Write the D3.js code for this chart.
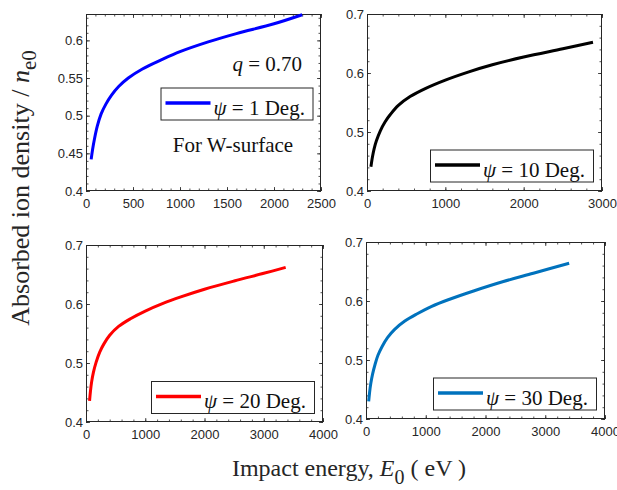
<!DOCTYPE html>
<html>
<head>
<meta charset="utf-8">
<script src="https://cdn.jsdelivr.net/npm/d3@7/dist/d3.min.js"></script>
<style>
  html, body { margin: 0; padding: 0; background: #fff; }
  svg { display: block; }
</style>
</head>
<body>
<svg id="chart" width="617" height="490"></svg>
<script>
// Absorbed ion density versus impact energy, one panel per incidence angle psi.
const energyPsi1 = [55, 70, 90, 120, 160, 210, 270, 350, 450, 600, 800, 1000, 1300, 1600, 2000, 2300];
const densityPsi1 = [0.442, 0.455, 0.469, 0.486, 0.502, 0.515, 0.527, 0.539, 0.550, 0.562, 0.574, 0.585, 0.598, 0.609, 0.622, 0.634];

const energyPsi10 = [50, 70, 90, 120, 170, 230, 300, 400, 550, 750, 1000, 1300, 1600, 2000, 2500, 2885];
const densityPsi10 = [0.441, 0.458, 0.471, 0.485, 0.502, 0.517, 0.530, 0.545, 0.560, 0.574, 0.588, 0.602, 0.614, 0.627, 0.641, 0.652];

const energyPsi20 = [60, 75, 95, 125, 170, 230, 300, 400, 550, 750, 1000, 1300, 1600, 2000, 2500, 3000, 3370];
const densityPsi20 = [0.436, 0.452, 0.468, 0.484, 0.501, 0.518, 0.532, 0.547, 0.562, 0.575, 0.588, 0.601, 0.612, 0.625, 0.639, 0.652, 0.662];

const energyPsi30 = [45, 60, 80, 110, 150, 200, 270, 360, 480, 650, 850, 1100, 1400, 1800, 2300, 2800, 3400];
const densityPsi30 = [0.430, 0.445, 0.460, 0.476, 0.492, 0.508, 0.523, 0.538, 0.552, 0.566, 0.578, 0.591, 0.603, 0.617, 0.633, 0.647, 0.664];

const psiAngles = [1, 10, 20, 30];

const xTicksA = [0, 500, 1000, 1500, 2000, 2500];
const xTicksB = [0, 1000, 2000, 3000];
const xTicksC = [0, 1000, 2000, 3000, 4000];
const yTicksA = [0.4, 0.45, 0.5, 0.55, 0.6];
const yTicksB = [0.4, 0.5, 0.6, 0.7];

const svg = d3.select("#chart");
const axisColor = "#262626";
const tickFont = "'Liberation Sans', Arial, sans-serif";
const serifFont = "'Liberation Serif', 'Times New Roman', serif";

const panels = [
  { box: [86, 14, 321, 191], xDomain: [0, 2500], yDomain: [0.4, 0.635],
    xTicks: xTicksA, xMinor: 100, yTicks: yTicksA, yMinor: 0.01,
    energy: energyPsi1, density: densityPsi1, psi: psiAngles[0], color: "#0000ff",
    legend: { right: 8.5, top: 73.5, w: 152, h: 32 } },
  { box: [367, 14, 602, 191], xDomain: [0, 3000], yDomain: [0.4, 0.7],
    xTicks: xTicksB, xMinor: 200, yTicks: yTicksB, yMinor: 0.02,
    energy: energyPsi10, density: densityPsi10, psi: psiAngles[1], color: "#000000",
    legend: { right: 9, bottom: 9.5, w: 163, h: 32 } },
  { box: [86, 245, 323, 422], xDomain: [0, 4000], yDomain: [0.4, 0.7],
    xTicks: xTicksC, xMinor: 200, yTicks: yTicksB, yMinor: 0.02,
    energy: energyPsi20, density: densityPsi20, psi: psiAngles[2], color: "#ff0000",
    legend: { right: 9, bottom: 9, w: 163, h: 32 } },
  { box: [366, 242, 605, 419], xDomain: [0, 4000], yDomain: [0.4, 0.7],
    xTicks: xTicksC, xMinor: 200, yTicks: yTicksB, yMinor: 0.02,
    energy: energyPsi30, density: densityPsi30, psi: psiAngles[3], color: "#0072bd",
    legend: { right: 9, bottom: 9.5, w: 163, h: 32 } }
];

const majorLen = 4, minorLen = 2.5;

function minorValues(domain, step) {
  const n = Math.floor((domain[1] - domain[0]) / step + 1e-6);
  return d3.range(0, n + 1).map(i => +(domain[0] + i * step).toFixed(6));
}

function styleAxis(g) {
  g.select(".domain").remove();
  g.selectAll("line").attr("stroke", axisColor).attr("stroke-width", 0.8);
  g.selectAll("text").attr("fill", axisColor)
    .style("font-family", tickFont).style("font-size", "13px");
}

panels.forEach(p => {
  const [l, t, r, b] = p.box;
  const x = d3.scaleLinear().domain(p.xDomain).range([l, r]);
  const y = d3.scaleLinear().domain(p.yDomain).range([b, t]);
  const g = svg.append("g");

  const xMin = minorValues(p.xDomain, p.xMinor);
  const yMin = minorValues(p.yDomain, p.yMinor);

  // minor ticks on all four sides
  g.append("g").attr("transform", `translate(0,${b})`)
    .call(d3.axisBottom(x).tickValues(xMin).tickSize(-minorLen).tickFormat("")).call(styleAxis);
  g.append("g").attr("transform", `translate(0,${t})`)
    .call(d3.axisTop(x).tickValues(xMin).tickSize(-minorLen).tickFormat("")).call(styleAxis);
  g.append("g").attr("transform", `translate(${l},0)`)
    .call(d3.axisLeft(y).tickValues(yMin).tickSize(-minorLen).tickFormat("")).call(styleAxis);
  g.append("g").attr("transform", `translate(${r},0)`)
    .call(d3.axisRight(y).tickValues(yMin).tickSize(-minorLen).tickFormat("")).call(styleAxis);

  // major ticks, labelled on bottom and left
  g.append("g").attr("transform", `translate(0,${b})`)
    .call(d3.axisBottom(x).tickValues(p.xTicks).tickSize(-majorLen).tickPadding(8).tickFormat(d3.format("d")))
    .call(styleAxis);
  g.append("g").attr("transform", `translate(0,${t})`)
    .call(d3.axisTop(x).tickValues(p.xTicks).tickSize(-majorLen).tickFormat("")).call(styleAxis);
  g.append("g").attr("transform", `translate(${l},0)`)
    .call(d3.axisLeft(y).tickValues(p.yTicks).tickSize(-majorLen).tickPadding(3).tickFormat(d3.format("~g")))
    .call(styleAxis);
  g.append("g").attr("transform", `translate(${r},0)`)
    .call(d3.axisRight(y).tickValues(p.yTicks).tickSize(-majorLen).tickFormat("")).call(styleAxis);

  // axes box
  g.append("rect")
    .attr("x", l + 0.5).attr("y", t + 0.5)
    .attr("width", r - l - 1).attr("height", b - t - 1)
    .attr("fill", "none").attr("stroke", axisColor).attr("stroke-width", 1);

  // curve
  const pts = p.energy.map((e, i) => [e, p.density[i]]);
  const line = d3.line().x(d => x(d[0])).y(d => y(d[1])).curve(d3.curveCatmullRom.alpha(0.5));
  g.append("path").datum(pts)
    .attr("d", line)
    .attr("fill", "none").attr("stroke", p.color).attr("stroke-width", 3);

  // legend
  const L = p.legend;
  const lx = r - L.right - L.w;
  const ly = L.top !== undefined ? t + L.top : b - L.bottom - L.h;
  const lg = g.append("g").attr("transform", `translate(${lx},${ly})`);
  lg.append("rect").attr("x", 0.5).attr("y", 0.5).attr("width", L.w).attr("height", L.h)
    .attr("fill", "#fff").attr("stroke", axisColor).attr("stroke-width", 1);
  lg.append("line").attr("x1", 5).attr("x2", 50).attr("y1", L.h / 2 - 0.5).attr("y2", L.h / 2 - 0.5)
    .attr("stroke", p.color).attr("stroke-width", 3.5);
  const lt = lg.append("text").attr("x", 53).attr("y", L.h - 5)
    .style("font-family", serifFont).style("font-size", "21px").attr("fill", "#111");
  lt.append("tspan").style("font-style", "italic").text("ψ");
  lt.append("tspan").text(` = ${p.psi} Deg.`);
});

// annotations in the first panel
svg.append("text").attr("x", 302).attr("y", 71).attr("text-anchor", "end")
  .style("font-family", serifFont).style("font-size", "21px").attr("fill", "#111")
  .call(t => {
    t.append("tspan").style("font-style", "italic").text("q");
    t.append("tspan").text(" = 0.70");
  });
svg.append("text").attr("x", 233).attr("y", 152).attr("text-anchor", "middle")
  .style("font-family", serifFont).style("font-size", "21px").attr("fill", "#111")
  .text("For W-surface");

// shared axis titles
const xt = svg.append("text").attr("x", 349).attr("y", 476).attr("text-anchor", "middle")
  .style("font-family", serifFont).style("font-size", "24px").attr("fill", "#262626");
xt.append("tspan").text("Impact energy, ");
xt.append("tspan").style("font-style", "italic").text("E");
xt.append("tspan").attr("dy", 8).style("font-size", "20px").text("0");
xt.append("tspan").attr("dy", -8).text(" ( eV )");

const yt = svg.append("text").attr("transform", "translate(29,188) rotate(-90)")
  .attr("text-anchor", "middle")
  .style("font-family", serifFont).style("font-size", "26px").attr("fill", "#262626");
yt.append("tspan").text("Absorbed ion density / ");
yt.append("tspan").style("font-style", "italic").text("n");
yt.append("tspan").attr("dy", 7).style("font-size", "21px").text("e0");
</script>
</body>
</html>
